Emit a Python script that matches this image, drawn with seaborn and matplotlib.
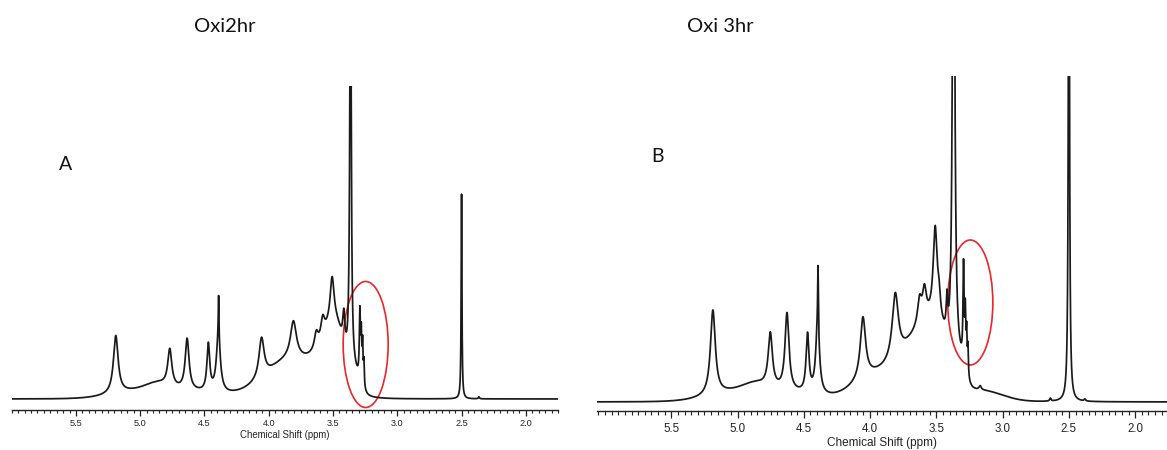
import numpy as np
import pandas as pd
import seaborn as sns
import matplotlib.pyplot as plt
from matplotlib.patches import Ellipse
from matplotlib.ticker import MultipleLocator

# ---- spectrum A (Oxi2hr): Lorentzian lines (ppm, amplitude, half-width) ----
a_line_ppm = [5.190, 4.770, 4.635, 4.470, 4.392, 4.390, 4.056, 3.808, 3.630, 3.580,
              3.507, 3.416, 3.364, 3.291, 3.280, 3.270, 3.260, 2.500, 2.365]
a_line_amp = [58, 37, 51, 47, 55, 42, 40, 37, 16, 20,
              43, 32, 420, 68, 45, 40, 25, 205, 2]
a_line_hw = [0.022, 0.019, 0.018, 0.013, 0.019, 0.003, 0.024, 0.028, 0.018, 0.018,
             0.018, 0.010, 0.007, 0.005, 0.004, 0.004, 0.004, 0.0035, 0.005]
# broad envelope humps (ppm, height, sigma toward high ppm, sigma toward low ppm)
a_hump_ppm = [5.00, 4.87, 4.75, 3.80, 3.60, 3.48, 3.33]
a_hump_height = [4, 5, 8, 40, 14, 58, 15]
a_hump_sig_hi = [0.20, 0.08, 0.30, 0.22, 0.07, 0.07, 0.04]
a_hump_sig_lo = [0.20, 0.08, 0.30, 0.22, 0.07, 0.07, 0.04]
a_base = 11

# ---- spectrum B (Oxi 3hr) ----
b_line_ppm = [5.186, 4.753, 4.627, 4.472, 4.396, 4.393, 4.054, 3.810, 3.627, 3.590,
              3.509, 3.480, 3.420, 3.370, 3.295, 3.282, 3.272, 3.262, 3.170, 2.640,
              2.500, 2.380]
b_line_amp = [85, 54, 77, 58, 68, 62, 62, 66, 25, 30,
              88, 18, 35, 650, 100, 55, 40, 30, 4, 3,
              600, 2]
b_line_hw = [0.022, 0.019, 0.018, 0.013, 0.017, 0.003, 0.024, 0.028, 0.018, 0.018,
             0.018, 0.012, 0.007, 0.009, 0.005, 0.004, 0.004, 0.004, 0.010, 0.006,
             0.005, 0.006]
b_hump_ppm = [5.00, 4.87, 4.75, 4.00, 3.52, 3.33, 3.15]
b_hump_height = [5, 5, 10, 18, 80, 20, 10]
b_hump_sig_hi = [0.20, 0.08, 0.30, 0.15, 0.22, 0.04, 0.15]
b_hump_sig_lo = [0.20, 0.08, 0.30, 0.15, 0.10, 0.04, 0.15]
b_base = 9

titles = ["Oxi2hr", "Oxi 3hr"]
panel_tags = ["A", "B"]
tick_values = [5.5, 5.0, 4.5, 4.0, 3.5, 3.0, 2.5, 2.0]


def spectrum(ppm, line_ppm, line_amp, line_hw, hump_ppm, hump_h, sig_hi, sig_lo, base):
    y = np.full_like(ppm, float(base))
    for c, a, w in zip(line_ppm, line_amp, line_hw):
        y += a / (1.0 + ((ppm - c) / w) ** 2)
    for c, h, s_hi, s_lo in zip(hump_ppm, hump_h, sig_hi, sig_lo):
        s = np.where(ppm >= c, s_hi, s_lo)
        y += h * np.exp(-0.5 * ((ppm - c) / s) ** 2)
    return y


sns.set_theme(style="white")
plt.rcParams["font.family"] = ["Liberation Sans", "DejaVu Sans"]

fig = plt.figure(figsize=(11.67, 4.5), dpi=100)

# axes rectangles in figure fractions
ax_a = fig.add_axes([0.0100, 0.0889, 0.4681, 0.7200])
ax_b = fig.add_axes([0.5116, 0.0867, 0.4884, 0.7444])

panels = [
    dict(ax=ax_a, xlim=(6.00, 1.75), ylim=(0, 324),
         spec=(a_line_ppm, a_line_amp, a_line_hw, a_hump_ppm, a_hump_height,
               a_hump_sig_hi, a_hump_sig_lo, a_base),
         tick_fs=6.6, label_fs=6.9, tick_len=(4, 2.5), pad=2.5,
         ellipse=(3.246, 65.5, 0.35, 126)),
    dict(ax=ax_b, xlim=(6.06, 1.76), ylim=(0, 335),
         spec=(b_line_ppm, b_line_amp, b_line_hw, b_hump_ppm, b_hump_height,
               b_hump_sig_hi, b_hump_sig_lo, b_base),
         tick_fs=8.3, label_fs=8.5, tick_len=(5, 3), pad=3.5,
         ellipse=(3.244, 108.5, 0.34, 125)),
]

for p in panels:
    ax = p["ax"]
    ppm = np.linspace(p["xlim"][0], p["xlim"][1], 14000)
    inten = spectrum(ppm, *p["spec"])
    df = pd.DataFrame({"ppm": ppm, "intensity": inten})
    sns.lineplot(data=df, x="ppm", y="intensity", ax=ax, color="#1a1a1a",
                 lw=1.25, estimator=None, sort=False)
    ax.set_xlim(*p["xlim"])
    ax.set_ylim(*p["ylim"])
    for side in ["left", "right", "top"]:
        ax.spines[side].set_visible(False)
    ax.spines["bottom"].set_color("#222222")
    ax.spines["bottom"].set_linewidth(1.0)
    ax.set_yticks([])
    ax.set_ylabel("")
    ax.set_xticks(tick_values)
    ax.set_xticklabels([f"{v:.1f}" for v in tick_values])
    ax.xaxis.set_minor_locator(MultipleLocator(0.05))
    ax.tick_params(axis="x", which="major", direction="out", length=p["tick_len"][0],
                   width=0.9, color="#222222", labelsize=p["tick_fs"], pad=p["pad"],
                   bottom=True, labelcolor="#222222")
    ax.tick_params(axis="x", which="minor", direction="out", length=p["tick_len"][1],
                   width=0.8, color="#222222", bottom=True)
    ax.set_xlabel("Chemical Shift (ppm)", fontsize=p["label_fs"], color="#222222",
                  labelpad=1.5)
    cx, cy, w, h = p["ellipse"]
    ax.add_patch(Ellipse((cx, cy), w, h, fill=False, edgecolor="#e8262b",
                         lw=1.2, clip_on=False))

# headings and panel letters
title_font = ["Lato", "DejaVu Sans"]
fig.text(225 / 1167, 1 - 27 / 450, titles[0], ha="center", va="center",
         fontsize=14.5, family=title_font, color="#111111")
fig.text(720 / 1167, 1 - 27 / 450, titles[1], ha="center", va="center",
         fontsize=14.5, family=title_font, color="#111111")
fig.text(66 / 1167, 1 - 165 / 450, panel_tags[0], ha="center", va="center",
         fontsize=14, family=title_font, color="#111111")
fig.text(658 / 1167, 1 - 157 / 450, panel_tags[1], ha="center", va="center",
         fontsize=14, family=title_font, color="#111111")

fig.savefig("out.png", dpi=100, facecolor="white")
